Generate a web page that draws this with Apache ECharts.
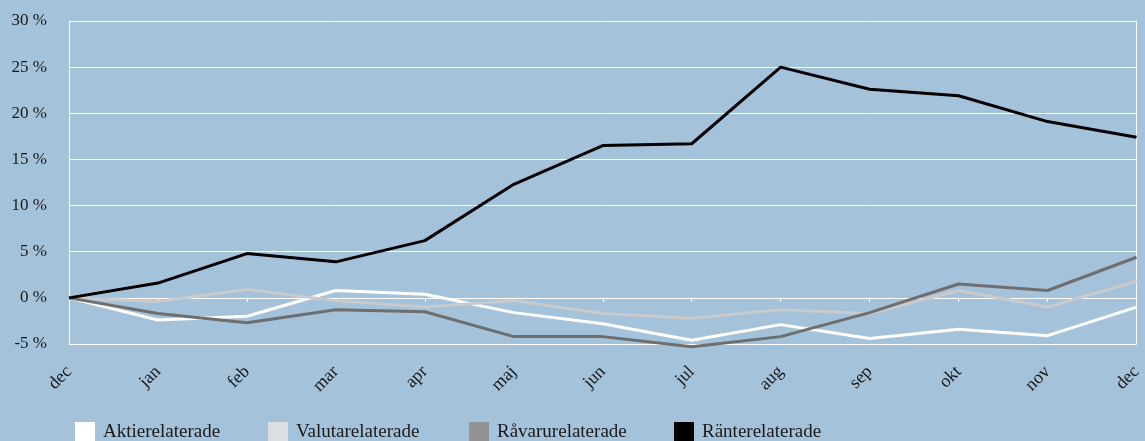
<!DOCTYPE html>
<html>
<head>
<meta charset="utf-8">
<script src="https://cdn.jsdelivr.net/npm/echarts@6/dist/echarts.min.js"></script>
<style>
html, body { margin: 0; padding: 0; background: #a4c2da; }
#chart { width: 1145px; height: 441px; }
</style>
</head>
<body>
<div id="chart"></div>
<script>
var months = ['dec', 'jan', 'feb', 'mar', 'apr', 'maj', 'jun', 'jul', 'aug', 'sep', 'okt', 'nov', 'dec'];
var aktie = [0, -2.4, -2.0, 0.8, 0.4, -1.6, -2.8, -4.6, -2.9, -4.4, -3.4, -4.1, -1.0];
var valuta = [0, -0.4, 0.9, -0.3, -1.0, -0.3, -1.7, -2.2, -1.3, -1.7, 0.8, -1.0, 1.8];
var ravaru = [0, -1.7, -2.7, -1.3, -1.5, -4.2, -4.2, -5.3, -4.2, -1.6, 1.5, 0.8, 4.4];
var ranta = [0, 1.6, 4.8, 3.9, 6.2, 12.3, 16.5, 16.7, 25.0, 22.6, 21.9, 19.1, 17.4];

var names = ['Aktierelaterade', 'Valutarelaterade', 'Råvarurelaterade', 'Ränterelaterade'];
var values = [aktie, valuta, ravaru, ranta];
var lineColors = ['#ffffff', '#c8cacc', '#6e6e6e', '#000000'];
var iconColors = ['#ffffff', '#dcdfe2', '#939393', '#000000'];
var legendLeft = [75, 268, 469, 674];

var font = 'Liberation Serif';
var textColor = '#1a1a1a';

var myChart = echarts.init(document.getElementById('chart'));

var series = [];
var legends = [];
for (var i = 0; i < names.length; i++) {
	series.push({
		name: names[i],
		type: 'line',
		data: values[i],
		symbol: 'none',
		clip: false,
		itemStyle: { color: iconColors[i] },
		lineStyle: { color: lineColors[i], width: 3 },
		z: 3 + i
	});
	legends.push({
		data: [names[i]],
		left: legendLeft[i],
		top: 422,
		icon: 'rect',
		itemWidth: 20,
		itemHeight: 20,
		padding: 0,
		selectedMode: false,
		textStyle: { fontFamily: font, fontSize: 19, color: textColor, padding: [2, 0, 0, 3] }
	});
}

var option = {
	backgroundColor: '#a4c2da',
	animation: false,
	grid: { left: 69, right: 8, top: 21, bottom: 97 },
	legend: legends,
	xAxis: [{
		type: 'category',
		data: months,
		boundaryGap: false,
		axisLine: { show: false, onZero: false },
		axisTick: { show: false },
		axisLabel: {
			rotate: 45,
			margin: 25,
			interval: 0,
			fontFamily: font,
			fontSize: 18,
			color: textColor
		}
	}, {
		type: 'category',
		data: months,
		boundaryGap: false,
		position: 'bottom',
		axisLine: { show: true, onZero: true, lineStyle: { color: '#ffffff', width: 1 } },
		axisTick: { show: true, length: 4, lineStyle: { color: '#ffffff' } },
		axisLabel: { show: false }
	}],
	yAxis: [{
		type: 'value',
		min: -5,
		max: 30,
		interval: 5,
		axisLine: { show: true, lineStyle: { color: '#ffffff', width: 1 } },
		axisTick: { show: false },
		splitLine: { lineStyle: { color: '#ffffff', width: 1 } },
		axisLabel: {
			formatter: '{value} %',
			margin: 22,
			fontFamily: font,
			fontSize: 17,
			color: textColor
		}
	}, {
		type: 'value',
		min: -5,
		max: 30,
		interval: 5,
		position: 'right',
		axisLine: { show: true, lineStyle: { color: '#ffffff', width: 1 } },
		axisTick: { show: false },
		splitLine: { show: false },
		axisLabel: { show: false }
	}],
	series: series
};

myChart.setOption(option);
</script>
</body>
</html>
